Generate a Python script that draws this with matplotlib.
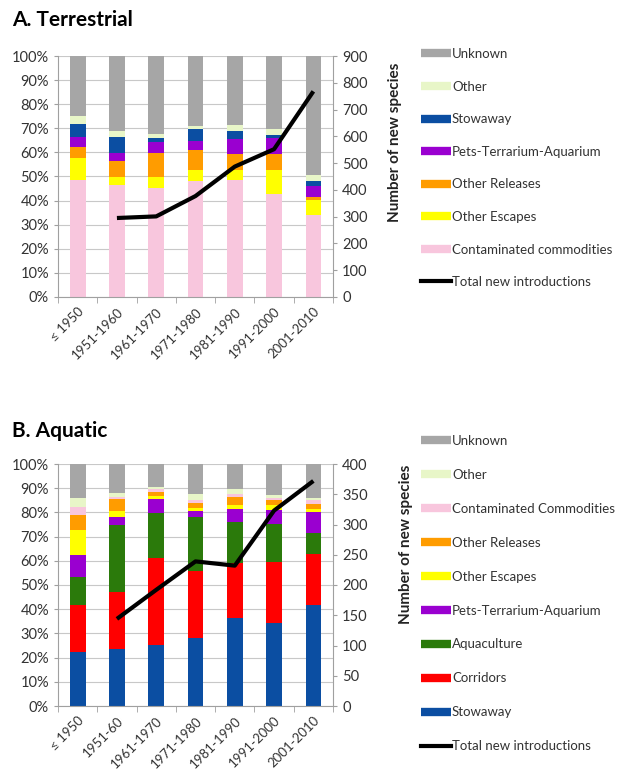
import numpy as np
import matplotlib
matplotlib.use('Agg')
import matplotlib.pyplot as plt
from matplotlib.lines import Line2D
from matplotlib.ticker import PercentFormatter

plt.rcParams['font.family'] = ['Lato', 'DejaVu Sans']

# categories
periods_a = ['≤ 1950', '1951-1960', '1961-1970', '1971-1980', '1981-1990', '1991-2000', '2001-2010']
periods_b = ['≤ 1950', '1951-60', '1961-1970', '1971-1980', '1981-1990', '1991-2000', '2001-2010']

# terrestrial shares (%), bottom to top
a_contaminated = [48.6, 46.5, 45.2, 48.0, 48.6, 42.8, 34.0]
a_escapes = [9.0, 3.5, 4.8, 4.9, 4.2, 9.7, 6.3]
a_releases = [4.8, 6.5, 9.6, 8.0, 6.4, 6.7, 1.4]
a_pets = [3.8, 3.4, 4.9, 3.8, 6.3, 6.7, 4.4]
a_stowaway = [5.6, 6.4, 1.3, 4.9, 3.5, 1.5, 2.2]
a_other = [3.2, 2.6, 1.7, 1.4, 2.2, 2.3, 2.2]
a_unknown = [25.0, 31.1, 32.5, 29.0, 28.8, 30.3, 49.5]
a_total = [np.nan, 295, 301, 377, 487, 552, 768]

# aquatic shares (%), bottom to top
b_stowaway = [22.3, 23.4, 25.1, 28.1, 36.4, 34.1, 41.7]
b_corridors = [19.6, 23.8, 35.9, 27.6, 22.8, 25.5, 21.2]
b_aquaculture = [11.2, 27.6, 18.9, 22.5, 16.9, 15.8, 8.4]
b_pets = [9.5, 3.1, 5.6, 2.4, 5.1, 5.6, 8.7]
b_escapes = [10.1, 2.7, 1.3, 1.4, 1.8, 2.0, 1.4]
b_releases = [6.2, 4.9, 1.8, 2.0, 3.5, 2.1, 1.9]
b_contaminated = [3.4, 1.0, 0.9, 1.1, 0.9, 1.0, 1.8]
b_other = [3.8, 1.6, 0.8, 2.5, 2.3, 1.1, 0.7]
b_unknown = [13.9, 11.9, 9.7, 12.4, 10.3, 12.8, 14.2]
b_total = [np.nan, 144, 192, 239, 232, 323, 372]

col = {
    'Unknown': '#a6a6a6',
    'Other': '#e8f6c8',
    'Stowaway': '#0b4ea2',
    'Pets-Terrarium-Aquarium': '#9a00d0',
    'Other Releases': '#ff9c00',
    'Other Escapes': '#ffff00',
    'Contaminated': '#f8c6dd',
    'Aquaculture': '#2b7a0b',
    'Corridors': '#ff0000',
}

series_a = [
    ('Contaminated commodities', a_contaminated, col['Contaminated']),
    ('Other Escapes', a_escapes, col['Other Escapes']),
    ('Other Releases', a_releases, col['Other Releases']),
    ('Pets-Terrarium-Aquarium', a_pets, col['Pets-Terrarium-Aquarium']),
    ('Stowaway', a_stowaway, col['Stowaway']),
    ('Other', a_other, col['Other']),
    ('Unknown', a_unknown, col['Unknown']),
]
series_b = [
    ('Stowaway', b_stowaway, col['Stowaway']),
    ('Corridors', b_corridors, col['Corridors']),
    ('Aquaculture', b_aquaculture, col['Aquaculture']),
    ('Pets-Terrarium-Aquarium', b_pets, col['Pets-Terrarium-Aquarium']),
    ('Other Escapes', b_escapes, col['Other Escapes']),
    ('Other Releases', b_releases, col['Other Releases']),
    ('Contaminated Commodities', b_contaminated, col['Contaminated']),
    ('Other', b_other, col['Other']),
    ('Unknown', b_unknown, col['Unknown']),
]

fig = plt.figure(figsize=(6.19, 7.70), dpi=100)

grid_col = '#c8c8c8'
spine_col = '#a0a0a0'
txt_col = '#333333'


def panel(rect, labels, series, total, ymax2, step2, title, title_y, legend_top, spacing, label_xy):
    ax = fig.add_axes(rect)
    x = np.arange(len(labels))
    bottom = np.zeros(len(labels))
    for name, vals, c in series:
        ax.bar(x, vals, 0.4, bottom=bottom, color=c, zorder=2)
        bottom += np.array(vals)
    ax.set_xlim(-0.5, len(labels) - 0.5)
    ax.set_ylim(0, 100)
    ax.set_yticks(np.arange(0, 101, 10))
    ax.yaxis.set_major_formatter(PercentFormatter(decimals=0))
    ax.grid(axis='y', color=grid_col, lw=0.8, zorder=0)
    ax.set_xticks(x)
    ax.set_xticklabels(labels, rotation=45, ha='right', rotation_mode='anchor', fontsize=9.5, color=txt_col)
    ax.set_xticks(np.arange(-0.5, len(labels)), minor=True)
    ax.tick_params(axis='x', which='major', length=0, pad=6)
    ax.tick_params(axis='x', which='minor', length=4, color=spine_col)
    ax.tick_params(axis='y', length=3, color=spine_col, labelsize=10.5, labelcolor=txt_col)
    for s in ['top', 'right']:
        ax.spines[s].set_visible(False)
    for s in ['left', 'bottom']:
        ax.spines[s].set_color(spine_col)

    # total line on second axis
    ax2 = ax.twinx()
    ax2.plot(x, total, color='black', lw=3, solid_capstyle='butt', zorder=3)
    ax2.set_ylim(0, ymax2)
    ax2.set_yticks(np.arange(0, ymax2 + 1, step2))
    ax2.tick_params(axis='y', length=3, color=spine_col, labelsize=10.5, labelcolor=txt_col)
    for s in ['top', 'left', 'bottom']:
        ax2.spines[s].set_visible(False)
    ax2.spines['right'].set_color(spine_col)
    ax2.set_ylabel('Number of new species', fontsize=11, fontweight='bold', color='#222222')
    ax2.yaxis.set_label_coords(*label_xy)

    fig.text(12 / 619, title_y, title, fontsize=15, fontweight='bold', va='center')

    # legend: top of stack first, line last
    handles = [Line2D([0], [0], color=c, lw=6, solid_capstyle='butt') for _, _, c in series[::-1]]
    handles.append(Line2D([0], [0], color='black', lw=3))
    names = [n for n, _, _ in series[::-1]] + ['Total new introductions']
    fig.legend(handles, names, loc='upper left', bbox_to_anchor=(421 / 619, legend_top),
               frameon=False, fontsize=9.5, handlelength=2.25, handletextpad=0.1,
               labelspacing=spacing, borderaxespad=0, borderpad=0, labelcolor=txt_col)
    return ax


panel([58 / 619, 1 - 297 / 770, 275 / 619, 241 / 770], periods_a, series_a, a_total,
      900, 100, 'A. Terrestrial', 1 - 20 / 770, 1 - 48 / 770, 1.56, (1.2, 0.643))
panel([58 / 619, 1 - 706 / 770, 275 / 619, 242 / 770], periods_b, series_b, b_total,
      400, 50, 'B. Aquatic', 1 - 431 / 770, 1 - 435 / 770, 1.66, (1.24, 0.67))

plt.savefig('out.png', dpi=100)
